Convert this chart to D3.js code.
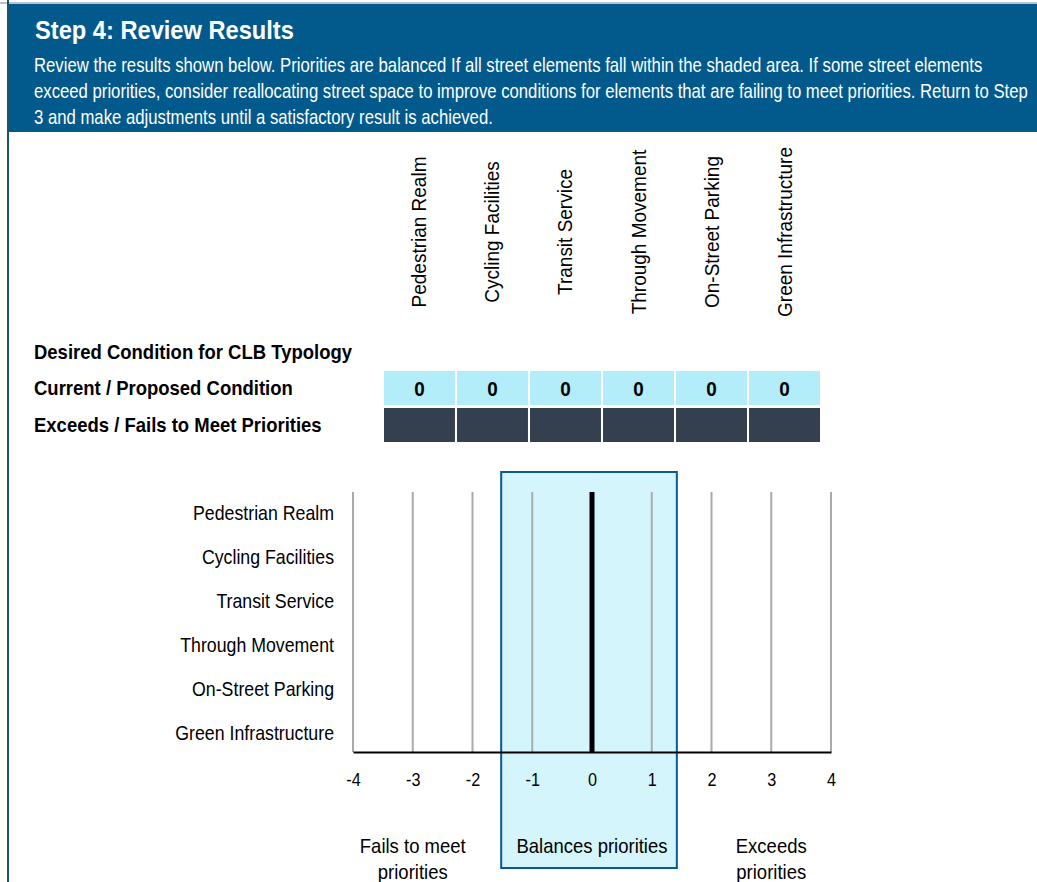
<!DOCTYPE html>
<html>
<head>
<meta charset="utf-8">
<script src="https://cdn.jsdelivr.net/npm/d3@7"></script>
<style>
  body { margin: 0; background: #fff; }
  svg text { font-family: "Liberation Sans", Arial, sans-serif; }
</style>
</head>
<body>
<script>
// data
var categories = ["Pedestrian Realm", "Cycling Facilities", "Transit Service", "Through Movement", "On-Street Parking", "Green Infrastructure"];
var currentValues = [0, 0, 0, 0, 0, 0];
var rowLabels = ["Desired Condition for CLB Typology", "Current / Proposed Condition", "Exceeds / Fails to Meet Priorities"];
var xTicks = [-4, -3, -2, -1, 0, 1, 2, 3, 4];
var balanceRange = [-1.52, 1.42];
var zoneLabels = [
  {x: -3, lines: ["Fails to meet", "priorities"]},
  {x: 0, lines: ["Balances priorities"]},
  {x: 3, lines: ["Exceeds", "priorities"]}
];
var introLines = [
  "Review the results shown below. Priorities are balanced If all street elements fall within the shaded area. If some street elements",
  "exceed priorities, consider reallocating street space to improve conditions for elements that are failing to meet priorities. Return to Step",
  "3 and make adjustments until a satisfactory result is achieved."
];

var W = 1037, H = 882;
var svg = d3.select("body").append("svg")
  .attr("width", W).attr("height", H);

// narrow the glyphs horizontally, keeping the anchor x in place (no narrow font here)
function squeeze(sel, sx) {
  sel.attr("transform", function() {
    var x0 = +d3.select(this).attr("x") || 0;
    return "translate(" + (x0 * (1 - sx)) + ",0) scale(" + sx + ",1)";
  });
}

// frame + header
svg.append("rect").attr("x", 0).attr("y", 2).attr("width", W).attr("height", 2).attr("fill", "#b9c3c9");
svg.append("rect").attr("x", 7).attr("y", 0).attr("width", 2).attr("height", H).attr("fill", "#1d5466");
svg.append("rect").attr("x", 9).attr("y", 4).attr("width", W - 9).attr("height", 128).attr("fill", "#02598c");

svg.append("text").attr("x", 35).attr("y", 39)
  .attr("fill", "#fff").attr("font-size", 26).attr("font-weight", "bold")
  .text("Step 4: Review Results")
  .call(squeeze, 0.91);

svg.append("g").selectAll("text").data(introLines).enter().append("text")
  .attr("x", 34).attr("y", function(d, i){ return 72 + i * 26; })
  .attr("fill", "#fff").attr("font-size", 20)
  .text(function(d){ return d; })
  .call(squeeze, 0.836);

// table columns
var colX = d3.scaleBand().domain(categories).range([384, 820]).paddingInner(0.028).paddingOuter(0);

svg.append("g").selectAll("text").data(categories).enter().append("text")
  .attr("transform", function(d){ return "translate(" + (colX(d) + colX.bandwidth() / 2 + 7) + ",232) rotate(-90) scale(0.927,1)"; })
  .attr("text-anchor", "middle").attr("font-size", 20.5).attr("fill", "#000")
  .text(function(d){ return d; });

svg.append("g").selectAll("text").data(rowLabels).enter().append("text")
  .attr("x", 34).attr("y", function(d, i){ return 359 + i * 36.5; })
  .attr("font-size", 20).attr("font-weight", "bold").attr("fill", "#000")
  .text(function(d){ return d; })
  .call(squeeze, 0.925);

svg.append("g").selectAll("rect").data(currentValues).enter().append("rect")
  .attr("x", function(d, i){ return colX(categories[i]); })
  .attr("y", 371).attr("width", colX.bandwidth()).attr("height", 34)
  .attr("fill", "#b3edfa");

svg.append("g").selectAll("text").data(currentValues).enter().append("text")
  .attr("x", function(d, i){ return colX(categories[i]) + colX.bandwidth() / 2; })
  .attr("y", 396).attr("text-anchor", "middle")
  .attr("font-size", 21).attr("font-weight", "bold").attr("fill", "#000")
  .text(function(d){ return d; })
  .call(squeeze, 0.9);

svg.append("g").selectAll("rect").data(currentValues).enter().append("rect")
  .attr("x", function(d, i){ return colX(categories[i]); })
  .attr("y", 408).attr("width", colX.bandwidth()).attr("height", 34)
  .attr("fill", "#343f4f");

// chart
var x = d3.scaleLinear().domain([-4, 4]).range([353, 831]);
var y = d3.scaleBand().domain(categories).range([492, 755]);
var plotTop = 492, plotBottom = 752;

svg.append("rect")
  .attr("x", x(balanceRange[0])).attr("y", 472)
  .attr("width", x(balanceRange[1]) - x(balanceRange[0])).attr("height", 396)
  .attr("fill", "#d5f5fc").attr("stroke", "#0a5a91").attr("stroke-width", 2);

svg.append("g").selectAll("line").data(xTicks).enter().append("line")
  .attr("x1", function(d){ return x(d); }).attr("x2", function(d){ return x(d); })
  .attr("y1", plotTop).attr("y2", plotBottom)
  .attr("stroke", "#aaa").attr("stroke-width", 2);

// value bars (all zero here)
svg.append("g").selectAll("rect").data(currentValues).enter().append("rect")
  .attr("x", function(d){ return x(Math.min(0, d)); })
  .attr("y", function(d, i){ return y(categories[i]) + y.bandwidth() * 0.2; })
  .attr("width", function(d){ return Math.abs(x(d) - x(0)); })
  .attr("height", y.bandwidth() * 0.6)
  .attr("fill", "#000");

svg.append("line")
  .attr("x1", x(0)).attr("x2", x(0)).attr("y1", plotTop).attr("y2", plotBottom)
  .attr("stroke", "#000").attr("stroke-width", 5);

var xAxis = svg.append("g").attr("transform", "translate(0," + plotBottom + ")")
  .call(d3.axisBottom(x).tickValues(xTicks).tickSize(0).tickPadding(21).tickFormat(function(d){ return String(d); }));
xAxis.select(".domain").attr("stroke", "#000").attr("stroke-width", 2);
xAxis.selectAll("text").attr("font-size", 18).attr("fill", "#000")
  .attr("transform", "scale(0.9,1)")
  .style("font-family", "\"Liberation Sans\", Arial, sans-serif");

var yAxis = svg.append("g").attr("transform", "translate(353,0)")
  .call(d3.axisLeft(y).tickSize(0).tickPadding(19 / 0.866));
yAxis.select(".domain").remove();
yAxis.selectAll("text").attr("font-size", 20.5).attr("fill", "#000")
  .attr("transform", "scale(0.866,1)")
  .style("font-family", "\"Liberation Sans\", Arial, sans-serif");

var zl = svg.append("g").selectAll("text").data(zoneLabels).enter().append("text")
  .attr("text-anchor", "middle").attr("font-size", 20).attr("fill", "#000")
  .attr("transform", function(d){ return "translate(" + (x(d.x) * (1 - 0.925)) + ",0) scale(0.925,1)"; });
zl.selectAll("tspan").data(function(d){ return d.lines.map(function(l){ return {x: d.x, t: l}; }); })
  .enter().append("tspan")
  .attr("x", function(d){ return x(d.x); })
  .attr("y", function(d, i){ return 853 + i * 26; })
  .text(function(d){ return d.t; });
</script>
</body>
</html>
